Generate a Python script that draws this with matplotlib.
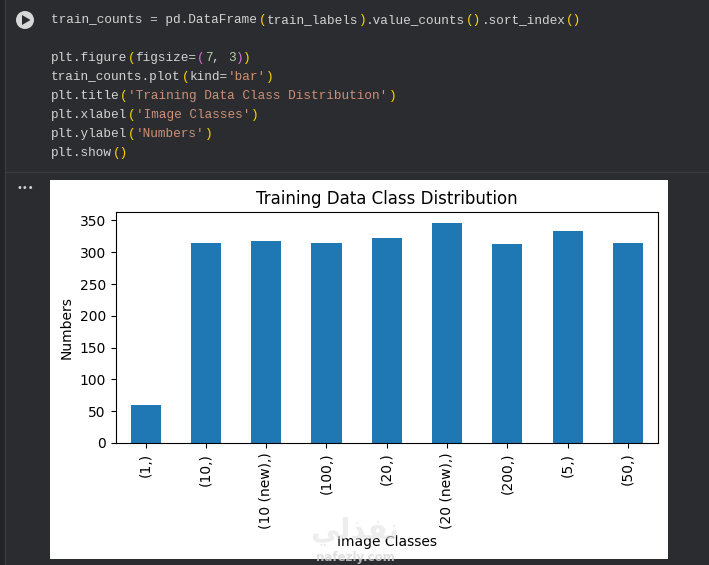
import matplotlib
matplotlib.use("Agg")
import matplotlib.pyplot as plt
from matplotlib.patches import Circle, Polygon, Rectangle

classes = ['(1,)', '(10,)', '(10 (new),)', '(100,)', '(20,)', '(20 (new),)', '(200,)', '(5,)', '(50,)']
counts = [60, 315, 318, 315, 322, 346, 313, 333, 315]

WHITE = '#d4d4d4'
YEL = '#ffd700'
PINK = '#da70d6'
STR = '#ce9178'
NUM = '#b5cea8'

# each code line is a list of (text, colour) pieces
code_lines = [
    (20, [('train_counts = pd.DataFrame', WHITE), ('(', YEL), ('train_labels', WHITE), (')', YEL),
          ('.value_counts', WHITE), ('()', YEL), ('.sort_index', WHITE), ('()', YEL)]),
    (58, [('plt.figure', WHITE), ('(', YEL), ('figsize=', WHITE), ('(', PINK), ('7', NUM), (', ', WHITE),
          ('3', NUM), (')', PINK), (')', YEL)]),
    (77, [('train_counts.plot', WHITE), ('(', YEL), ('kind=', WHITE), ("'bar'", STR), (')', YEL)]),
    (96, [('plt.title', WHITE), ('(', YEL), ("'Training Data Class Distribution'", STR), (')', YEL)]),
    (115, [('plt.xlabel', WHITE), ('(', YEL), ("'Image Classes'", STR), (')', YEL)]),
    (134, [('plt.ylabel', WHITE), ('(', YEL), ("'Numbers'", STR), (')', YEL)]),
    (153, [('plt.show', WHITE), ('()', YEL)]),
]

W, H = 709, 565
fig = plt.figure(figsize=(W / 100, H / 100), dpi=100, facecolor='#2b2c2f')

# notebook cell drawn in pixel coordinates
page = fig.add_axes([0, 0, 1, 1], zorder=0)
page.set_xlim(0, W)
page.set_ylim(H, 0)
page.axis('off')
page.add_patch(Rectangle((0, 0), 5, H, color='#232427', lw=0))
page.plot([5, 5], [0, H], color='#3a3b3e', lw=1)
page.plot([5, W], [172, 172], color='#3a3b3e', lw=1)
page.add_patch(Circle((25, 20), 9, color='#d8d8d8', lw=0))
page.add_patch(Polygon([(22, 15), (22, 25), (30.5, 20)], color='#2b2c2f', lw=0))
page.text(25, 188, '•••', color='#d0d0d0', fontsize=7, ha='center', va='center')
page.add_patch(Rectangle((50, 180), 618, 379, color='white', lw=0))

char_w = 7.69
for y, pieces in code_lines:
    col = 0
    for txt, c in pieces:
        page.text(51 + col * char_w, y, txt, color=c, fontsize=9.2, family='Liberation Mono',
                  ha='left', va='center')
        col += len(txt)

# the chart itself
ax = fig.add_axes([115.5 / W, 1 - 443 / H, 542.5 / W, 231 / H], zorder=1)
ax.bar(range(len(counts)), counts, width=0.5, color='#1f77b4')
ax.set_xlim(-0.5, 8.5)
ax.set_xticks(range(len(classes)))
ax.set_xticklabels(classes, rotation=90)
ax.set_title('Training Data Class Distribution')
ax.set_xlabel('Image Classes')
ax.set_ylabel('Numbers')

# watermark
over = fig.add_axes([0, 0, 1, 1], zorder=2)
over.set_xlim(0, W)
over.set_ylim(H, 0)
over.axis('off')
over.text(355, 531, 'ﻲﻟﺬﻔﻧ', color='#e2e2e2', fontsize=21, fontweight='bold', ha='center', va='center', alpha=0.6)
over.text(355, 558, 'nafezly.com', color='#d8d8d8', fontsize=8.5, fontweight='bold', ha='center', va='center', alpha=0.8)

fig.savefig('out.png', dpi=100, facecolor=fig.get_facecolor())
